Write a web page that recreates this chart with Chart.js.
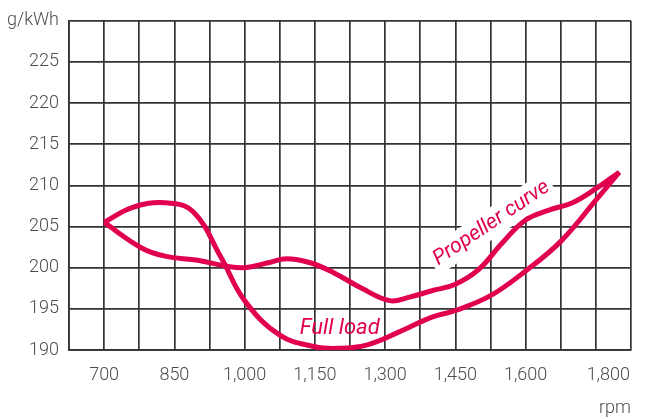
<!DOCTYPE html>
<html>
<head>
<meta charset="utf-8">
<script src="https://cdn.jsdelivr.net/npm/chart.js@4.4.1/dist/chart.umd.min.js"></script>
<style>
  html, body { margin: 0; padding: 0; background: #fff; }
</style>
</head>
<body>
<canvas id="fuelChart" width="646" height="419"></canvas>
<script>
// consumo especifico (g/kWh) vs rpm
var fullLoadRpm = [700, 760, 830, 890, 950, 1000, 1075, 1150, 1200, 1260, 1330, 1400, 1450, 1525, 1600, 1675, 1750, 1800];
var fullLoadVal = [205.5, 207.3, 207.9, 206.8, 201.2, 196.0, 191.8, 190.4, 190.2, 190.6, 192.2, 194.0, 194.8, 196.6, 199.6, 203.2, 208.2, 211.6];

var propRpm = [700, 780, 830, 900, 960, 1000, 1050, 1090, 1140, 1190, 1250, 1310, 1350, 1400, 1450, 1500, 1550, 1600, 1650, 1700, 1750, 1800];
var propVal = [205.5, 202.4, 201.4, 200.9, 200.2, 200.0, 200.6, 201.1, 200.6, 199.4, 197.5, 196.0, 196.4, 197.2, 198.0, 199.8, 203.0, 205.8, 207.0, 207.9, 209.6, 211.6];

var xTickLabels = [700, 850, 1000, 1150, 1300, 1450, 1600, 1800];
var yTopLabel = 'g/kWh';
var xTitle = 'rpm';

var RED = '#e0004f';
var GRID = '#333333';
var TXT = '#4d4d4d';
var FONT = "Roboto, 'Liberation Sans', sans-serif";

function toPoints(xs, ys) {
    return xs.map(function(x, i) { return { x: x, y: ys[i] }; });
}

// etiquetas sobre las curvas (antes de las lineas, para que el fondo blanco tape solo la rejilla)
var curveLabels = {
    id: 'curveLabels',
    beforeDatasetsDraw: function(chart) {
        var ctx = chart.ctx;
        var xs = chart.scales.x, ys = chart.scales.y;
        ctx.save();
        ctx.font = 'italic 400 22px ' + FONT;
        ctx.fillStyle = RED;
        ctx.textAlign = 'center';
        ctx.textBaseline = 'middle';
        ctx.fillText('Full load', xs.getPixelForValue(1203), ys.getPixelForValue(192.6));

        ctx.font = 'italic 400 21px ' + FONT;
        ctx.translate(xs.getPixelForValue(1527), ys.getPixelForValue(205.4));
        ctx.rotate(-34 * Math.PI / 180);
        var w = ctx.measureText('Propeller curve').width;
        ctx.fillStyle = '#fff';
        ctx.fillRect(-w / 2 - 4, -14, w + 8, 28);
        ctx.fillStyle = RED;
        ctx.fillText('Propeller curve', 0, 0);
        ctx.restore();
    }
};

var ctxFuel = document.getElementById('fuelChart').getContext('2d');
var fuelChart = new Chart(ctxFuel, {
    type: 'line',
    data: {
        datasets: [{
            label: 'Full load',
            data: toPoints(fullLoadRpm, fullLoadVal),
            borderColor: RED,
            borderWidth: 5,
            pointRadius: 0,
            tension: 0.4,
            fill: false
        }, {
            label: 'Propeller curve',
            data: toPoints(propRpm, propVal),
            borderColor: RED,
            borderWidth: 5,
            pointRadius: 0,
            tension: 0.4,
            fill: false
        }]
    },
    options: {
        responsive: false,
        animation: false,
        layout: { autoPadding: false, padding: { top: 17, right: 1, left: 0, bottom: 0 } },
        plugins: {
            legend: { display: false },
            tooltip: { enabled: false }
        },
        scales: {
            x: {
                type: 'linear',
                min: 625,
                max: 1825,
                afterBuildTicks: function(scale) {
                    scale.ticks.push({ value: 1800 });
                    scale.ticks.sort(function(a, b) { return a.value - b.value; });
                },
                afterFit: function(scale) { scale.height = 69; },
                ticks: {
                    stepSize: 75,
                    autoSkip: false,
                    maxRotation: 0,
                    padding: 15,
                    color: TXT,
                    font: { family: FONT, size: 18, weight: 300 },
                    callback: function(v) {
                        if (xTickLabels.indexOf(v) < 0) return '';
                        var s = v.toLocaleString('en-US');
                        // el ultimo rotulo va recostado al borde derecho
                        return v === 1800 ? s + '     ' : s;
                    }
                },
                grid: {
                    drawTicks: false,
                    lineWidth: 1.7,
                    color: function(c) {
                        return (c.tick && c.tick.value === 1800) ? 'rgba(0,0,0,0)' : GRID;
                    }
                },
                border: { color: GRID, width: 1.7 },
                title: {
                    display: true,
                    text: xTitle,
                    align: 'end',
                    color: TXT,
                    font: { family: FONT, size: 18, weight: 300 },
                    padding: { top: 0, bottom: 0 }
                }
            },
            y: {
                min: 190,
                max: 230,
                afterFit: function(scale) { scale.width = 69; },
                ticks: {
                    stepSize: 5,
                    padding: 10,
                    color: TXT,
                    font: { family: FONT, size: 18, weight: 300 },
                    callback: function(v) { return v === 230 ? yTopLabel : v; }
                },
                grid: { drawTicks: false, lineWidth: 1.7, color: GRID },
                border: { color: GRID, width: 1.7 }
            }
        }
    },
    plugins: [curveLabels]
});
</script>
</body>
</html>
